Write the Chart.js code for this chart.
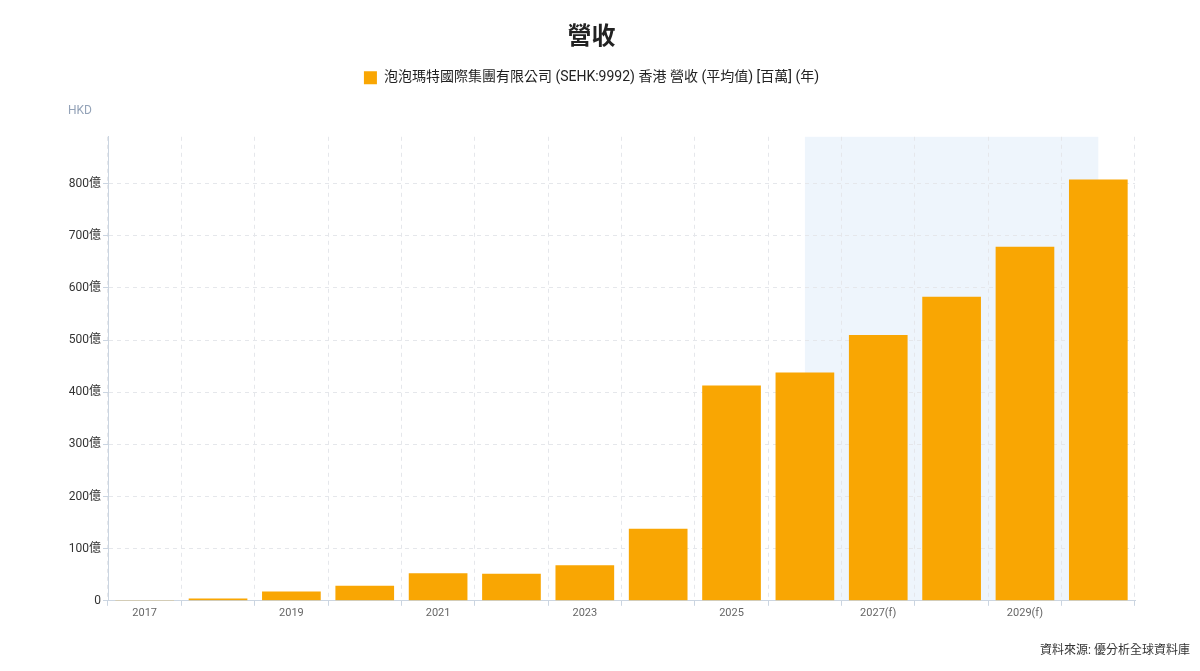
<!DOCTYPE html>
<html>
<head>
<meta charset="utf-8">
<script src="https://cdn.jsdelivr.net/npm/chart.js@4"></script>
<style>
  html, body { margin: 0; padding: 0; background: #fff; }
  #wrap { width: 1200px; height: 671px; position: relative; }
</style>
</head>
<body>
<div id="wrap"><canvas id="revenue-chart" width="1200" height="671"></canvas></div>
<script>
const years = ['2017', '2018', '2019', '2020', '2021', '2022', '2023', '2024', '2025',
  '2026(f)', '2027(f)', '2028(f)', '2029(f)', '2030(f)'];
// revenue, HKD millions
const revenue = [160, 450, 1800, 2900, 5300, 5200, 6800, 13800, 41300, 43800, 51000, 58300, 67900, 80800];
const yTickValues = [0, 10000, 20000, 30000, 40000, 50000, 60000, 70000, 80000];
const yTickLabels = ['0', '100億', '200億', '300億', '400億', '500億', '600億', '700億', '800億'];
const seriesName = '泡泡瑪特國際集團有限公司 (SEHK:9992) 香港 營收 (平均值) [百萬] (年)';
const shadeFrom = 9, shadeTo = 13;

const FONT = "Roboto, 'Noto Sans CJK TC', sans-serif";

const extras = {
  id: 'extras',
  beforeInit(chart) {
    // leave room between the legend and the plot for the currency label
    const fit = chart.legend.fit;
    chart.legend.fit = function () {
      fit.call(this);
      this.height += 42;
    };
  },
  beforeDraw(chart) {
    const { ctx, chartArea, scales } = chart;
    const x0 = scales.x.getPixelForValue(shadeFrom);
    const x1 = scales.x.getPixelForValue(shadeTo);
    ctx.save();
    ctx.fillStyle = '#eef5fc';
    ctx.fillRect(x0, chartArea.top, x1 - x0, chartArea.bottom - chartArea.top);
    ctx.restore();
  },
  afterDraw(chart) {
    const ctx = chart.ctx;
    ctx.save();
    ctx.font = '12px ' + FONT;
    ctx.fillStyle = '#94a3b8';
    ctx.textBaseline = 'middle';
    ctx.textAlign = 'left';
    ctx.fillText('HKD', 68, 111);
    ctx.fillStyle = '#333';
    ctx.textAlign = 'right';
    ctx.fillText('資料來源: 優分析全球資料庫', 1190, 651);
    ctx.restore();
  }
};

new Chart(document.getElementById('revenue-chart'), {
  type: 'bar',
  data: {
    labels: years,
    datasets: [{
      label: seriesName,
      data: revenue,
      backgroundColor: '#f9a603',
      borderWidth: 0,
      categoryPercentage: 1,
      barPercentage: 0.8
    }]
  },
  options: {
    responsive: false,
    animation: false,
    devicePixelRatio: 1,
    layout: { padding: { left: 48, right: 65, top: 0, bottom: 50 } },
    plugins: {
      title: {
        display: true,
        text: '營收',
        color: '#222',
        font: { family: FONT, size: 24, weight: 'bold' },
        padding: { top: 24, bottom: 8 }
      },
      legend: {
        labels: {
          color: '#222',
          font: { family: FONT, size: 14 },
          boxWidth: 13,
          boxHeight: 13,
          padding: 10
        }
      },
      tooltip: { enabled: false }
    },
    scales: {
      x: {
        border: { color: '#cbd5e1', dash: [4, 4] },
        grid: { color: '#e5e7eb', tickLength: 5, tickColor: '#cbd5e1' },
        ticks: {
          autoSkip: false,
          maxRotation: 0,
          color: '#666',
          font: { family: FONT, size: 11 },
          padding: 1,
          callback: (v, i) => (i % 2 === 0 ? years[i] : '')
        }
      },
      y: {
        min: 0,
        max: 89000,
        afterFit: s => { s.width = 60; },
        afterBuildTicks: s => { s.ticks = yTickValues.map(v => ({ value: v })); },
        border: { color: '#cbd5e1', dash: [4, 4] },
        grid: { color: '#e5e7eb', tickLength: 5, tickColor: '#cbd5e1' },
        ticks: {
          color: '#333',
          font: { family: FONT, size: 12 },
          padding: 2,
          callback: (v, i) => yTickLabels[i]
        }
      }
    }
  },
  plugins: [extras]
});
</script>
</body>
</html>
